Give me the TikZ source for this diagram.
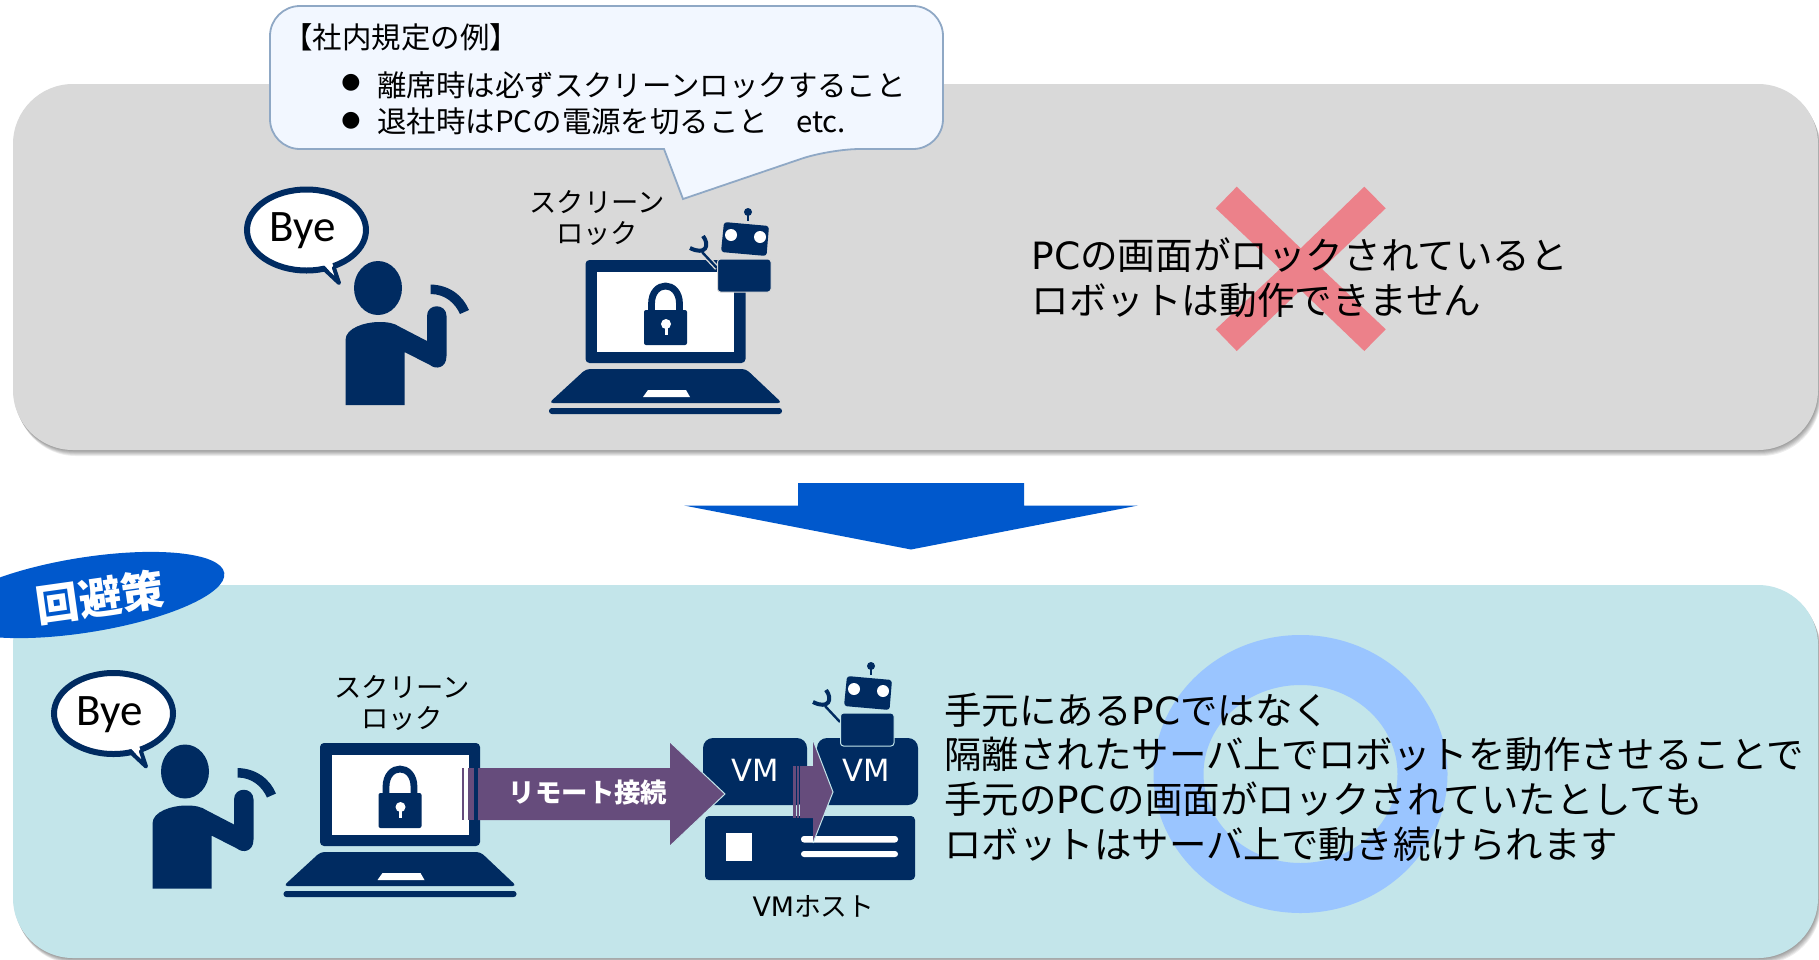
\documentclass[tikz,border=0pt]{standalone}
\usepackage{fontspec}
\setmainfont{Noto Sans CJK JP}
\newfontfamily\byefont{Carlito}
\newfontfamily\dotfont{DejaVu Sans}
\usetikzlibrary{calc}
\definecolor{navy}{HTML}{002B61}
\definecolor{graypanel}{HTML}{D9D9D9}
\definecolor{tealpanel}{HTML}{C3E5EA}
\definecolor{bluebig}{HTML}{0058CC}
\definecolor{purplearrow}{HTML}{664C7C}
\definecolor{crosscol}{HTML}{EC818A}
\definecolor{ringcol}{HTML}{9AC5FF}
\definecolor{balloonfill}{HTML}{F2F7FF}
\definecolor{balloonedge}{HTML}{8FA8C5}
\tikzset{
  x=0.5pt,y=-0.5pt,
  paneltext/.style={align=left,anchor=west,inner sep=0pt,text=black},
  smalltext/.style={font=\fontsize{13.65}{15.9}\selectfont,align=center,inner sep=0pt,text=black},
  balloontext/.style={font=\fontsize{14.72}{17}\selectfont,anchor=west,inner sep=0pt,text=black},
  byetext/.style={font=\byefont\fontsize{22.5}{25}\selectfont,inner sep=0pt,text=black},
  vmtext/.style={font=\dotfont\fontsize{15.3}{18}\selectfont,inner sep=0pt,text=white},
  dotnode/.style={font=\dotfont\fontsize{11}{12}\selectfont,inner sep=0pt,text=black},
  navyfill/.style={fill=navy,draw=none},
}
\newcommand{\paneldraw}[3]{%
  \foreach \s in {1,2,3,4,5,6}{
    \fill[black,opacity=0.07,rounded corners=30pt] ($(13,#1)+(\s*0.5,\s)$) rectangle ($(1818,#2)+(\s*0.5,\s)$);
  }
  \fill[#3,rounded corners=30pt] (13,#1) rectangle (1818,#2);
}
\newcommand{\personat}[3]{%
 \begin{scope}[shift={(#1,#2)}]
  \draw[navy,line width=3pt,fill=white] (306.5,230) ellipse [x radius=59.5,y radius=40.5];
  \fill[white] (324,265) -- (337,279) -- (332,262) -- cycle;
  \draw[navy,line width=2pt,line join=round,line cap=round] (323,268) -- (339,283) -- (334,268);
  \node[byetext] (bye#3) at (302.5,231) {Bye};
  \fill[navyfill] (378,288) ellipse [x radius=24,y radius=27];
  \fill[navyfill] (345.5,405) -- (345.5,340) .. controls (345.5,328) and (365,322) .. (379,322)
     .. controls (388,322) and (394,323) .. (400,327) -- (427,341) -- (427,316)
     .. controls (427,303) and (446.5,303) .. (446.5,316) -- (446.5,356)
     .. controls (446.5,368) and (436,370) .. (430,365) -- (404.5,352) -- (404.5,405) -- cycle;
  \fill[navyfill] (430.5,284.5) .. controls (450,285) and (463,296) .. (469,310) -- (460,314)
     .. controls (455,303) and (445,294) .. (430.5,294) -- cycle;
 \end{scope}}
\newcommand{\laptopat}[2]{%
 \begin{scope}[shift={(#1,#2)}]
  \fill[navyfill,rounded corners=2pt] (585.5,259) rectangle (745.5,362);
  \fill[white] (597,271) rectangle (734,351);
  \fill[navyfill,rounded corners=2pt] (549,402) -- (586,368) -- (746,368) -- (782,402) -- cycle;
  \fill[white] (648,389) -- (686,389) -- (690,396) -- (643,396) -- cycle;
  \fill[navyfill,rounded corners=1.4pt] (549,407) rectangle (782,413);
  % lock
  \draw[navy,line width=3.4pt] (651.5,312) -- (651.5,303) .. controls (651.5,279) and (679.5,279) .. (679.5,303) -- (679.5,312);
  \fill[navyfill,rounded corners=1pt] (644,309) rectangle (687,344);
  \fill[white] (666,323) circle [radius=5];
  \fill[white] (664.5,324) rectangle (667.5,334);
 \end{scope}}
\newcommand{\robotat}[3]{%
 \begin{scope}[shift={(#1,#2)}]
  \fill[navyfill] (748,212) circle [radius=4];
  \draw[navy,line width=1pt] (748,212) -- (748,221);
  \fill[navyfill,rounded corners=1.5pt] (724,222) -- (769,226) -- (766.5,256) -- (721,252) -- cycle;
  \fill[white] (731,235) circle [radius=6];
  \fill[white] (760,237) circle [radius=6];
  \draw[#3,line width=2.6pt] (702,252) -- (717,268);
  \draw[navy,line width=1.2pt] (702,252) -- (717,268);
  \draw[navy,line width=2pt] (703,236) .. controls (710,245) and (706,256) .. (690,248);
  \fill[navyfill,rounded corners=1.5pt,draw=#3,line width=0.5pt] (717.5,259) rectangle (771,292);
 \end{scope}}
\begin{document}
\begin{tikzpicture}
\useasboundingbox (0,0) rectangle (1819,959);
\fill[white] (0,0) rectangle (1819,959);
% panels
\paneldraw{84}{450}{graypanel}
\paneldraw{585}{958}{tealpanel}
% big down arrow
\fill[bluebig] (798,483) -- (1024,483) -- (1024,505.5) -- (1138,505.5) -- (911,549.5) -- (684,505.5) -- (798,505.5) -- cycle;
% blue ellipse
\fill[bluebig] (85,595) ellipse [x radius=141,y radius=37.5,rotate=9];
\node[rotate=8,font=\fontsize{21.5}{24}\selectfont\bfseries,text=white,inner sep=0pt] (kaihi) at (100,597) {回避策};
% cross
\fill[crosscol] (1236.7,186.7) -- (1300.7,248.3) -- (1364.3,186.7) -- (1385.7,208.3) -- (1322,269)
  -- (1385.7,329.3) -- (1364.3,351) -- (1300.7,290) -- (1236.7,351) -- (1215.7,329.3) -- (1280,269) -- (1215.7,208.3) -- cycle;
% ring
\fill[ringcol,even odd rule] (1300.5,774) ellipse [x radius=147,y radius=139] (1300.5,774) ellipse [x radius=97,y radius=89];
% balloon
\draw[balloonedge,fill=balloonfill,line width=0.9pt,rounded corners=15pt]
  (270,6) -- (943,6) -- (943,149) -- (830,149) [sharp corners] -- (683,199) -- (664,149) [rounded corners=15pt] -- (270,149) -- cycle;
\node[balloontext] (btitle) at (283,37) {【社内規定の例】};
\node[dotnode] (bdot1) at (351,83) {●};
\node[balloontext] (bline1) at (377,85) {離席時は必ずスクリーンロックすること};
\node[dotnode] (bdot2) at (351,121) {●};
\node[balloontext] (bline2) at (377,121) {退社時はPCの電源を切ること\hspace{14pt}etc.};
% top scene
\personat{0}{0}{a}
\laptopat{0}{1}
\robotat{0}{0}{graypanel}
\node[smalltext] (sl1) at (597,218) {スクリーン\\ロック};
\node[paneltext,font=\fontsize{18.8}{22.5}\selectfont] (msg1) at (1031,278) {{\dotfont PC}の画面がロックされていると\\ロボットは動作できません};
% lower scene
\personat{-193}{483.5}{b}
\laptopat{-265.5}{484}
\node[smalltext] (sl2) at (402,703) {スクリーン\\ロック};
% VM boxes
\fill[navyfill,rounded corners=5pt] (703,738) rectangle (807,805);
\fill[navyfill,rounded corners=5pt] (817,738) rectangle (918,805);
\robotat{123}{454}{tealpanel}
\fill[navyfill,rounded corners=2pt] (705,816) rectangle (915,880);
\fill[white] (726,833) rectangle (752,861);
\fill[white,rounded corners=1.5pt] (801,836) rectangle (898,842.5);
\fill[white,rounded corners=1.5pt] (801,851) rectangle (898,857);
\node[vmtext] (vm1) at (755,770) {VM};
\node[vmtext] (vm2) at (866,770) {VM};
\node[smalltext,font=\fontsize{13.4}{15.9}\selectfont] (vmh) at (813.5,906) {{\dotfont VM}ホスト};
% remote arrow
\fill[purplearrow] (461.5,768) rectangle (464,820);
\fill[purplearrow] (468,768) rectangle (474,820);
\fill[purplearrow] (478,768) -- (670,768) -- (670,742) -- (725,794) -- (670,846) -- (670,820) -- (478,820) -- cycle;
\draw[tealpanel,line width=0.5pt] (670,742) -- (725,794) -- (670,846);
\node[font=\fontsize{13.2}{15}\selectfont\bfseries,text=white,inner sep=0pt] (remote) at (588,792) {リモート接続};
% small arrow
\fill[purplearrow] (793,766) rectangle (796,818);
\fill[purplearrow] (797,766) rectangle (799,818);
\fill[purplearrow] (800,766) -- (813,766) -- (813,740) -- (833,792) -- (813,843) -- (813,818) -- (800,818) -- cycle;
\draw[tealpanel,line width=0.5pt] (813,740) -- (833,792) -- (813,843);
% text
\node[paneltext,font=\fontsize{18.72}{22.35}\selectfont] (msg2) at (944,777) {手元にある{\dotfont PC}ではなく\\隔離されたサーバ上でロボットを動作させることで\\手元の{\dotfont PC}\hspace{1.2pt}の画面がロックされていたとしても\\ロボットはサーバ上で動き続けられます};
\end{tikzpicture}
\end{document}
